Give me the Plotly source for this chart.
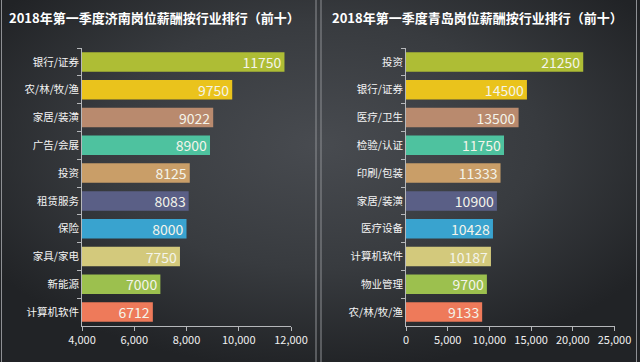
import base64
import plotly.graph_objects as go

# ---------------- data ----------------
jinan_categories = ["银行/证券", "农/林/牧/渔", "家居/装潢", "广告/会展", "投资",
                    "租赁服务", "保险", "家具/家电", "新能源", "计算机软件"]
jinan_values = [11750, 9750, 9022, 8900, 8125, 8083, 8000, 7750, 7000, 6712]

qingdao_categories = ["投资", "银行/证券", "医疗/卫生", "检验/认证", "印刷/包装",
                      "家居/装潢", "医疗设备", "计算机软件", "物业管理", "农/林/牧/渔"]
qingdao_values = [21250, 14500, 13500, 11750, 11333, 10900, 10428, 10187, 9700, 9133]

left_ticks = [4000, 6000, 8000, 10000, 12000]
right_ticks = [0, 5000, 10000, 15000, 20000, 25000]

title_left = "2018年第一季度济南岗位薪酬按行业排行（前十）"
title_right = "2018年第一季度青岛岗位薪酬按行业排行（前十）"

bar_colors = ["#aebd35", "#eac31c", "#b98a6e", "#4ec29f", "#c99e68",
              "#5a5f86", "#39a3cf", "#d3c97c", "#9cc04e", "#ee7a5a"]

W, H = 640, 362
FONT = "Noto Sans CJK SC"

fig = go.Figure()

fig.add_trace(go.Bar(
    y=jinan_categories, x=jinan_values, orientation="h",
    marker=dict(color=bar_colors, line=dict(width=0)),
    text=[str(v) for v in jinan_values], textposition="inside",
    insidetextanchor="end", textangle=0, constraintext="none",
    textfont=dict(color="#f4f4ea", size=14, family=FONT),
    xaxis="x", yaxis="y", width=0.7, hoverinfo="skip",
))
fig.add_trace(go.Bar(
    y=qingdao_categories, x=qingdao_values, orientation="h",
    marker=dict(color=bar_colors, line=dict(width=0)),
    text=[str(v) for v in qingdao_values], textposition="inside",
    insidetextanchor="end", textangle=0, constraintext="none",
    textfont=dict(color="#f4f4ea", size=14, family=FONT),
    xaxis="x2", yaxis="y2", width=0.7, hoverinfo="skip",
))

ydom = [1 - 326 / H, 1 - 48 / H]
axis_line = "#b5b7ba"

common_x = dict(showgrid=False, zeroline=False, showline=True, linecolor=axis_line,
                linewidth=1, ticks="outside", ticklen=4, tickcolor=axis_line,
                tickfont=dict(color="#f0f0f0", size=11, family=FONT),
                tickformat=",", fixedrange=True, automargin=False)
common_y = dict(showgrid=False, zeroline=False, showline=True, linecolor=axis_line,
                linewidth=1, ticks="outside", ticklen=4, tickcolor=axis_line,
                tickson="boundaries", autorange="reversed",
                tickfont=dict(color="#f4f4f4", size=10.5, family=FONT),
                fixedrange=True, automargin=False)

fig.update_layout(
    template="none",
    width=W, height=H, autosize=False,
    margin=dict(l=0, r=0, t=0, b=0, pad=0),
    paper_bgcolor="#303236", plot_bgcolor="rgba(0,0,0,0)",
    showlegend=False, bargap=0.3,
    font=dict(family=FONT, color="#f0f0f0"),
    xaxis=dict(domain=[82 / W, 291 / W], range=[4000, 12000], tickvals=left_ticks,
               anchor="y", **common_x),
    yaxis=dict(domain=ydom, anchor="x", type="category", **common_y),
    xaxis2=dict(domain=[406 / W, 614.5 / W], range=[0, 25000], tickvals=right_ticks,
                anchor="y2", **common_x),
    yaxis2=dict(domain=ydom, anchor="x2", type="category", **common_y),
)

# titles
fig.add_annotation(text=f"<b>{title_left}</b>", x=154 / W, y=1 - 18 / H,
                   xref="paper", yref="paper", xanchor="center", yanchor="middle",
                   showarrow=False, font=dict(size=13, color="#ffffff", family=FONT))
fig.add_annotation(text=f"<b>{title_right}</b>", x=477 / W, y=1 - 18 / H,
                   xref="paper", yref="paper", xanchor="center", yanchor="middle",
                   showarrow=False, font=dict(size=13, color="#ffffff", family=FONT))

# panel border lines
for px in [1.5, 316, 321, 636.5]:
    fig.add_shape(type="line", xref="paper", yref="paper",
                  x0=px / W, x1=px / W, y0=0, y1=1,
                  line=dict(color="#8e9094", width=1))

# radial gradient background
svg = f'''<svg xmlns="http://www.w3.org/2000/svg" width="{W}" height="{H}" viewBox="0 0 {W} {H}">
<defs><radialGradient id="g" cx="0.5" cy="0.4" r="0.62">
<stop offset="0" stop-color="#484b50"/><stop offset="0.55" stop-color="#383b3f"/>
<stop offset="1" stop-color="#212326"/></radialGradient></defs>
<rect width="{W}" height="{H}" fill="url(#g)"/></svg>'''
src = "data:image/svg+xml;base64," + base64.b64encode(svg.encode()).decode()
fig.add_layout_image(source=src, xref="paper", yref="paper", x=0, y=1,
                     sizex=1, sizey=1, sizing="stretch", layer="below",
                     xanchor="left", yanchor="top")

fig.write_html("out.html", config={"displayModeBar": False},
               post_script="document.body.style.margin='0';document.body.style.padding='0';")
